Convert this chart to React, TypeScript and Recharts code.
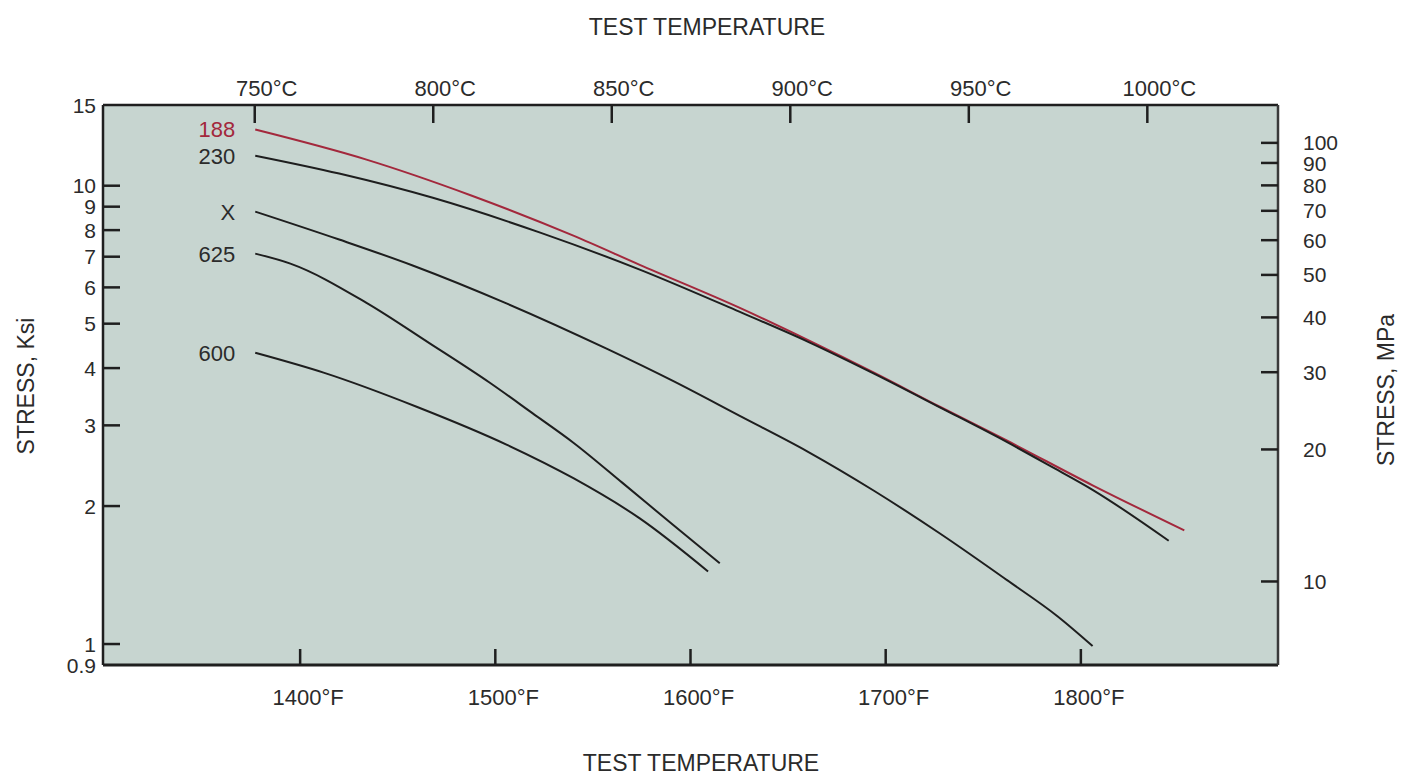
import React from 'react';
import { LineChart, Line, XAxis, YAxis, CartesianGrid } from 'recharts';

// ---- Data (temperature in °F, stress in ksi) ----
const tempF188 = [1377, 1434, 1488, 1540, 1574, 1625, 1660, 1694, 1728, 1762, 1806, 1853];
const ksi188 = [13.26, 11.4, 9.51, 7.78, 6.72, 5.42, 4.61, 3.91, 3.29, 2.78, 2.22, 1.77];

const tempF230 = [1377, 1420, 1468, 1523, 1574, 1625, 1660, 1694, 1728, 1762, 1784, 1806, 1845];
const ksi230 = [11.63, 10.63, 9.41, 7.9, 6.56, 5.31, 4.57, 3.89, 3.28, 2.76, 2.45, 2.17, 1.68];

const tempFX = [1377, 1420, 1458, 1506, 1557, 1591, 1625, 1660, 1694, 1728, 1762, 1788, 1806];
const ksiX = [8.78, 7.63, 6.69, 5.53, 4.41, 3.75, 3.15, 2.63, 2.16, 1.74, 1.38, 1.15, 0.99];

const tempF625 = [1377, 1395, 1434, 1466, 1497, 1519, 1540, 1565, 1591, 1615];
const ksi625 = [7.11, 6.76, 5.55, 4.54, 3.72, 3.19, 2.75, 2.25, 1.82, 1.5];

const tempF600 = [1377, 1412, 1460, 1506, 1540, 1574, 1609];
const ksi600 = [4.32, 3.91, 3.29, 2.72, 2.3, 1.88, 1.44];

const ksiTicks = [0.9, 1, 2, 3, 4, 5, 6, 7, 8, 9, 10, 15];
const mpaTicks = [10, 20, 30, 40, 50, 60, 70, 80, 90, 100];
const fTicks = [1400, 1500, 1600, 1700, 1800];
const cTicks = [750, 800, 850, 900, 950, 1000];

const ksiDomain = [0.9, 15];
const mpaDomain = [6.45, 122];
const fDomain = [1299, 1901];
const cDomain = [707.5, 1036.6];

const zip = (xs: number[], ys: number[]) => xs.map((f, i) => ({ f, ksi: ys[i] }));

const series = [
  { name: '188', data: zip(tempF188, ksi188), color: '#a3283c' },
  { name: '230', data: zip(tempF230, ksi230), color: '#1e1e1e' },
  { name: 'X', data: zip(tempFX, ksiX), color: '#1e1e1e' },
  { name: '625', data: zip(tempF625, ksi625), color: '#1e1e1e' },
  { name: '600', data: zip(tempF600, ksi600), color: '#1e1e1e' },
];

// chart-level rows that carry the Celsius scale for the top axis
const celsiusRows = cTicks.map((c) => ({ c }));

const FONT = '"Liberation Sans", Arial, Helvetica, sans-serif';
const TXT = '#2b2b2b';
const AX = '#1f1f1f';
const TICK_FS = 21;

const LeftTick = (p: any) => {
  const v = p.payload.value;
  const showLine = v !== 15 && v !== 0.9;
  return (
    <g>
      {showLine && <line x1={p.x} y1={p.y} x2={p.x + 17} y2={p.y} stroke={AX} strokeWidth={2.5} />}
      <text x={p.x - 7} y={p.y} dy="0.36em" textAnchor="end" fontSize={TICK_FS} fontFamily={FONT} fill={TXT}>
        {String(v)}
      </text>
    </g>
  );
};

const RightTick = (p: any) => (
  <g>
    <line x1={p.x - 17} y1={p.y} x2={p.x} y2={p.y} stroke={AX} strokeWidth={2.5} />
    <text x={p.x + 25} y={p.y} dy="0.36em" textAnchor="start" fontSize={TICK_FS} fontFamily={FONT} fill={TXT}>
      {String(p.payload.value)}
    </text>
  </g>
);

const TopTick = (p: any) => (
  <g>
    <line x1={p.x} y1={p.y} x2={p.x} y2={p.y + 18} stroke={AX} strokeWidth={2.5} />
    <text x={p.x + 12} y={p.y - 9} textAnchor="middle" fontSize={22} fontFamily={FONT} fill={TXT}>
      {`${p.payload.value}°C`}
    </text>
  </g>
);

const BottomTick = (p: any) => (
  <g>
    <line x1={p.x} y1={p.y - 16} x2={p.x} y2={p.y} stroke={AX} strokeWidth={2.5} />
    <text x={p.x + 8} y={p.y + 40} textAnchor="middle" fontSize={22} fontFamily={FONT} fill={TXT}>
      {`${p.payload.value}°F`}
    </text>
  </g>
);

const makeLabel = (name: string, color: string) => (p: any) =>
  p.index === 0 ? (
    <text key={`lbl-${name}`} x={p.x - 20} y={p.y} dy="0.36em" textAnchor="end" fontSize={22} fontFamily={FONT} fill={color}>
      {name}
    </text>
  ) : (
    <g key={`lbl-${name}-${p.index}`} />
  );

export default function App() {
  return (
    <div style={{ position: 'absolute', left: 0, top: 0, width: 1410, height: 777, background: '#fff' }}>
      <LineChart width={1410} height={777} data={celsiusRows} margin={{ top: 45, right: 52, bottom: 52, left: 43 }}>
        <CartesianGrid xAxisId="f" yAxisId="ksi" fill="#c7d5d0" stroke="none" horizontal={false} vertical={false} />
        <XAxis
          xAxisId="f"
          type="number"
          dataKey="f"
          orientation="bottom"
          domain={fDomain}
          ticks={fTicks}
          interval={0}
          allowDataOverflow
          height={60}
          tickSize={0}
          tickMargin={0}
          tickLine={false}
          tick={BottomTick}
          axisLine={{ stroke: AX, strokeWidth: 3 }}
        />
        <XAxis
          xAxisId="c"
          type="number"
          dataKey="c"
          orientation="top"
          domain={cDomain}
          ticks={cTicks}
          interval={0}
          allowDataOverflow
          height={60}
          tickSize={0}
          tickMargin={0}
          tickLine={false}
          tick={TopTick}
          axisLine={{ stroke: AX, strokeWidth: 2.5 }}
        />
        <YAxis
          yAxisId="ksi"
          type="number"
          scale="log"
          orientation="left"
          domain={ksiDomain}
          ticks={ksiTicks}
          interval={0}
          allowDataOverflow
          width={60}
          tickSize={0}
          tickMargin={0}
          tickLine={false}
          tick={LeftTick}
          axisLine={{ stroke: AX, strokeWidth: 2.5 }}
        />
        <YAxis
          yAxisId="mpa"
          type="number"
          scale="log"
          orientation="right"
          domain={mpaDomain}
          ticks={mpaTicks}
          interval={0}
          allowDataOverflow
          width={80}
          tickSize={0}
          tickMargin={0}
          tickLine={false}
          tick={RightTick}
          axisLine={{ stroke: '#3a3a3a', strokeWidth: 2.5 }}
        />
        {series.map((s) => (
          <Line
            key={s.name}
            xAxisId="f"
            yAxisId="ksi"
            data={s.data}
            dataKey="ksi"
            type="monotone"
            stroke={s.color}
            strokeWidth={2}
            dot={false}
            activeDot={false}
            isAnimationActive={false}
            label={makeLabel(s.name, s.name === '188' ? '#a3283c' : TXT)}
          />
        ))}
        <text x={707} y={35} textAnchor="middle" fontSize={23} fontFamily={FONT} fill={TXT}>
          TEST TEMPERATURE
        </text>
        <text x={701} y={771} textAnchor="middle" fontSize={23} fontFamily={FONT} fill={TXT}>
          TEST TEMPERATURE
        </text>
        <text
          x={26}
          y={386}
          dy="0.36em"
          textAnchor="middle"
          fontSize={23}
          fontFamily={FONT}
          fill={TXT}
          transform="rotate(-90 26 386)"
        >
          STRESS, Ksi
        </text>
        <text
          x={1386}
          y={390}
          dy="0.36em"
          textAnchor="middle"
          fontSize={23}
          fontFamily={FONT}
          fill={TXT}
          transform="rotate(-90 1386 390)"
        >
          STRESS, MPa
        </text>
      </LineChart>
    </div>
  );
}
